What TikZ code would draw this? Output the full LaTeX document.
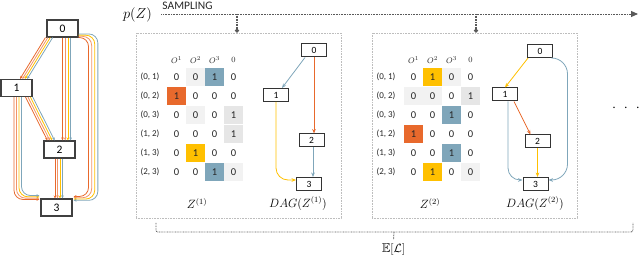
\documentclass[tikz,border=0pt]{standalone}
\usepackage{fontspec}
\setmainfont{Carlito}
\usepackage{amsmath}
\usepackage{amssymb}
\usetikzlibrary{arrows.meta, calc, positioning}

\definecolor{opO}{HTML}{E8692C}
\definecolor{opOl}{HTML}{F29468}
\definecolor{opY}{HTML}{FFC000}
\definecolor{opB}{HTML}{7FA6BA}
\definecolor{gA}{HTML}{F2F2F2}
\definecolor{gB}{HTML}{E6E6E6}
\definecolor{frame}{HTML}{BDBDBD}
\definecolor{ink}{HTML}{595959}

\begin{document}
\begin{tikzpicture}[
    x=1pt, y=1pt,
    big/.style={draw=black!75, line width=1.1pt, fill=white, minimum width=31pt,
                minimum height=17pt, inner sep=0pt, font=\fontsize{11.5}{12}\selectfont},
    small/.style={draw=black!80, line width=1pt, fill=white, minimum width=25pt,
                minimum height=13pt, inner sep=0pt, font=\fontsize{9.5}{11}\selectfont},
    edge/.style={line width=0.8pt, -{Stealth[length=3pt, width=2.6pt]}},
    dedge/.style={line width=0.8pt, -{Stealth[length=4.5pt, width=3.6pt]}},
    cell/.style={minimum width=19pt, minimum height=18.5pt, inner sep=0pt,
                font=\fontsize{10.5}{12}\selectfont, text=black!85},
    rowlbl/.style={font=\fontsize{9}{10}\selectfont, text=black!85},
    hdr/.style={font=\fontsize{8.5}{9}\selectfont, text=black!85},
    lbl/.style={font=\fontsize{12}{14}\selectfont},
    panel/.style={draw=frame, line width=0.8pt, dash pattern=on 0.8pt off 0.8pt,
                minimum width=205pt, minimum height=185pt, inner sep=0pt},
    dots/.style={draw=ink, line width=0.9pt, dash pattern=on 0.8pt off 0.8pt},
]
\useasboundingbox (0,0) rectangle (640,257);

% --- supernet: every operation on every edge ---
\node[big] (L0) at (62.5,228.5) {0};
\node[big] (L1) at (16.5,169)   {1};
\node[big] (L2) at (59.5,107.5) {2};
\node[big] (L3) at (56.5,49.5)  {3};

\foreach \i/\c in {0/opO, 1/opOl, 2/opY, 3/opB}{
  \draw[edge, \c] ([xshift={-1+2.4*\i}]L0.south west) -- ([xshift={3.5+2.4*\i}]L1.north);
  \draw[edge, \c] ([xshift={2.7*\i}]L0.south) -- ([xshift={3+2.7*\i}]L2.north);
  \draw[edge, \c] ([xshift={-7+2.4*\i}]L1.south east) -- ([xshift={4+2.4*\i}]L2.north west);
  \draw[edge, \c] ([xshift={-4.5+2.5*\i}]L2.south) -- ([xshift={-1.5+2.5*\i}]L3.north);
  \draw[edge, \c, rounded corners=9pt] ([xshift={-2.5+2.5*\i}]L1.south)
        |- ([xshift=-1, yshift={-1+1.3*\i}]L3.north west);
  \draw[edge, \c, rounded corners=9pt] ([yshift={1.2*\i}]L0.south east)
        -| ([xshift={16+3.1*\i}, yshift={2-1.3*\i}]L3.north east)
        -- ([xshift=1, yshift={2-1.3*\i}]L3.north east);
}

% --- sampling line ---
\node[font=\fontsize{14}{16}\selectfont] (pz) at (137.5,242) {$p(Z)$};
\node[font=\fontsize{11.5}{13}\selectfont, text=black!85] (samp) at (187.5,251.5) {SAMPLING};
\coordinate (send) at (638,243);
\draw[dots, -{Triangle[length=7pt, width=6pt]}] ([xshift=6pt, yshift=1pt]pz.east) -- (send);

% --- the two sampled panels ---
\node[panel] (box1) at (238.5,131.5) {};
\node[panel] (box2) at (474.5,131.5) {};
\draw[dots, line width=1.4pt, -{Circle[length=4pt]}] ([xshift=-1.5pt]box1.north |- send) -- ([xshift=-1.5pt]box1.north);
\draw[dots, line width=1.4pt, -{Circle[length=4pt]}] ([xshift=1.5pt]box2.north |- send) -- ([xshift=1.5pt]box2.north);

% matrix Z^(1)
\foreach \j/\h in {1/$O^{1}$, 2/$O^{2}$, 3/$O^{3}$, 4/$0$}
  \node[hdr] (za-h\j) at ({157.5+19*\j},197) {\h};
\foreach \k/\lbl/\va/\fa/\vb/\fb/\vc/\fc/\vd/\fd in {
    1/{(0, 1)}/0/none/0/gA/1/opB/0/none,
    2/{(0, 2)}/1/opO/0/none/0/none/0/none,
    3/{(0, 3)}/0/none/0/gA/0/none/1/gB,
    4/{(1, 2)}/0/none/0/none/0/none/1/gB,
    5/{(1, 3)}/0/none/1/opY/0/none/0/none,
    6/{(2, 3)}/0/none/0/none/1/opB/0/gA}{
  \node[rowlbl] (za-l\k) at (150,{199-19*\k}) {\lbl};
  \node[cell, fill=\fa] (za-\k-1) at (176.5,{199-19*\k}) {\va};
  \node[cell, fill=\fb] (za-\k-2) at (195.5,{199-19*\k}) {\vb};
  \node[cell, fill=\fc] (za-\k-3) at (214.5,{199-19*\k}) {\vc};
  \node[cell, fill=\fd] (za-\k-4) at (233.5,{199-19*\k}) {\vd};
}

% matrix Z^(2)
\foreach \j/\h in {1/$O^{1}$, 2/$O^{2}$, 3/$O^{3}$, 4/$0$}
  \node[hdr] (zb-h\j) at ({394.5+19*\j},197) {\h};
\foreach \k/\lbl/\va/\fa/\vb/\fb/\vc/\fc/\vd/\fd in {
    1/{(0, 1)}/0/none/1/opY/0/gA/0/none,
    2/{(0, 2)}/0/gA/0/gA/0/none/1/gB,
    3/{(0, 3)}/0/none/0/none/1/opB/0/none,
    4/{(1, 2)}/1/opO/0/none/0/none/0/none,
    5/{(1, 3)}/0/none/0/none/1/opB/0/none,
    6/{(2, 3)}/0/none/1/opY/0/none/0/gA}{
  \node[rowlbl] (zb-l\k) at (386,{199-19*\k}) {\lbl};
  \node[cell, fill=\fa] (zb-\k-1) at (413.5,{199-19*\k}) {\va};
  \node[cell, fill=\fb] (zb-\k-2) at (432.5,{199-19*\k}) {\vb};
  \node[cell, fill=\fc] (zb-\k-3) at (451.5,{199-19*\k}) {\vc};
  \node[cell, fill=\fd] (zb-\k-4) at (470.5,{199-19*\k}) {\vd};
}

% DAG(Z^(1))
\node[small] (A0) at (314,206.5) {0};
\node[small] (A1) at (276,162)   {1};
\node[small] (A2) at (311.5,116.5) {2};
\node[small] (A3) at (309,73)    {3};
\draw[dedge, opB] ([xshift=4]A0.south west) -- ([xshift=6]A1.north);
\draw[dedge, opO] (A0.south) -- ([xshift=2.5]A2.north);
\draw[dedge, opY, rounded corners=12pt] (A1.south) |- ([yshift=4]A3.west);
\draw[dedge, opB] ([xshift=1.5]A2.south) -- ([xshift=4]A3.north);

% DAG(Z^(2))
\node[small] (B0) at (540,206)   {0};
\node[small] (B1) at (505,162.5) {1};
\node[small] (B2) at (537.5,115.5) {2};
\node[small] (B3) at (535.5,73)  {3};
\draw[dedge, opY] ([xshift=1]B0.south west) -- (B1.north);
\draw[dedge, opB, rounded corners=16pt] (B0.south east)
      -| ([xshift=19, yshift=4]B3.east) -- ([yshift=4]B3.east);
\draw[dedge, opO] ([xshift=-4]B1.south east) -- ([xshift=6]B2.north west);
\draw[dedge, opB, rounded corners=12pt] ([xshift=3]B1.south) |- ([yshift=4]B3.west);
\draw[dedge, opY] (B2.south) -- ([xshift=2]B3.north);

% panel captions
\node[lbl] (za-name) at (197,53.5) {$Z^{(1)}$};
\node[lbl] (da-name) at (298,53.5) {$DAG(Z^{(1)})$};
\node[lbl] (zb-name) at (430,53.5) {$Z^{(2)}$};
\node[lbl] (db-name) at (535,53.5) {$DAG(Z^{(2)})$};

\node (more) at (626,149) {\fontsize{14}{14}\selectfont$\cdot$\hspace{8pt}$\cdot$\hspace{8pt}$\cdot$};

% expectation brace
\coordinate (bl) at (156,34);
\coordinate (br) at (633,34);
\coordinate (bmid) at (394,25);
\node[font=\fontsize{13}{15}\selectfont] (el) at (393.5,8) {$\mathbb{E}[\mathcal{L}]$};
\draw[dots, rounded corners=2pt] (bl) -- ++(0,-9) -| (br);
\draw[dots] (bmid) -- (el.north);
\end{tikzpicture}
\end{document}
